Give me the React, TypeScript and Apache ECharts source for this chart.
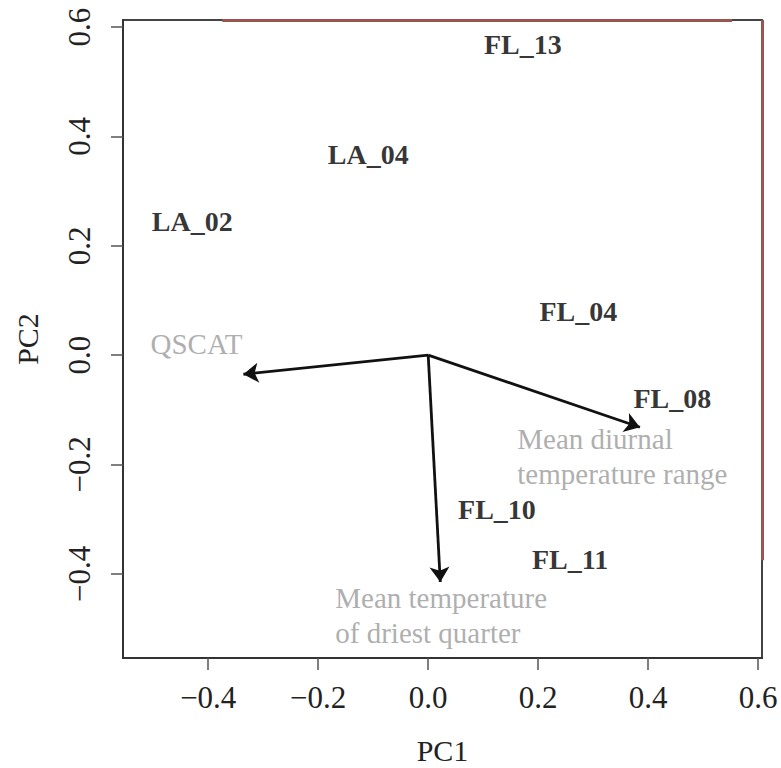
import React, { useEffect, useRef } from "react";
import * as echarts from "echarts";

const siteNames = ["FL_13", "LA_04", "LA_02", "FL_04", "FL_08", "FL_10", "FL_11"];
const siteX = [0.172, -0.109, -0.429, 0.273, 0.444, 0.125, 0.258];
const siteY = [0.569, 0.367, 0.244, 0.08, -0.08, -0.283, -0.374];

const varNames = ["QSCAT", "Mean diurnal\ntemperature range", "Mean temperature\nof driest quarter"];
const varX = [-0.336, 0.385, 0.022];
const varY = [-0.035, -0.132, -0.415];
const varLabelX = [-0.505, 0.162, -0.169];
const varLabelY = [0.02, -0.186, -0.476];

const tickValues = [-0.4, -0.2, 0, 0.2, 0.4, 0.6];
const xRange = [-0.555, 0.607];
const yRange = [-0.554, 0.613];
const topRedRange = [-0.3745, 0.5527];
const rightRedRange = [-0.375, 0.613];

const FONT = "'Liberation Serif', 'Times New Roman', serif";
const fmt = (v: number) => {
  const s = Math.abs(v).toFixed(1);
  return v < -1e-9 ? "\u2212" + s : s;
};

export default function App() {
  const ref = useRef<HTMLDivElement>(null);
  useEffect(() => {
    if (!ref.current) return;
    const chart = echarts.init(ref.current, null, { renderer: "svg" });
    const axisCommon = {
      type: "value" as const,
      splitLine: { show: false },
      axisLine: { show: true, onZero: false, lineStyle: { color: "#333", width: 2 } },
      axisTick: { show: true, length: 12, customValues: tickValues, lineStyle: { color: "#555", width: 1.5 } },
      nameLocation: "middle" as const,
      nameTextStyle: { fontFamily: FONT, fontSize: 30, lineHeight: 30, color: "#222" },
    };
    chart.setOption({
      animation: false,
      backgroundColor: "#fff",
      grid: {
        left: 123,
        right: 19,
        top: 20,
        bottom: 110,
        show: true,
        borderColor: "#444",
        borderWidth: 2,
        containLabel: false,
        outerBoundsMode: "none",
      },
      xAxis: {
        ...axisCommon,
        min: xRange[0],
        max: xRange[1],
        name: "PC1",
        nameGap: 77,
        axisLabel: {
          customValues: tickValues,
          formatter: fmt,
          fontFamily: FONT,
          fontSize: 31,
          color: "#222",
          margin: 24,
        },
      },
      yAxis: {
        ...axisCommon,
        min: yRange[0],
        max: yRange[1],
        name: "PC2",
        nameGap: 81,
        axisLabel: {
          customValues: tickValues,
          formatter: fmt,
          fontFamily: FONT,
          fontSize: 31,
          color: "#222",
          rotate: 90,
          margin: 28,
        },
      },
      series: [
        {
          type: "scatter",
          symbolSize: 0,
          data: siteNames.map((n, i) => ({ name: n, value: [siteX[i], siteY[i]] })),
          label: {
            show: true,
            position: "inside",
            formatter: "{b}",
            fontFamily: FONT,
            fontWeight: "bold",
            fontSize: 28,
            color: "#000",
          },
          markLine: {
            silent: true,
            symbol: ["none", "none"],
            label: { show: false },
            lineStyle: { color: "#9b5550", width: 3, type: "solid" },
            data: [
              [{ coord: [topRedRange[0], yRange[1]] }, { coord: [topRedRange[1], yRange[1]] }],
              [{ coord: [xRange[1], rightRedRange[0]] }, { coord: [xRange[1], rightRedRange[1]] }],
            ],
          },
        },
        {
          type: "lines",
          coordinateSystem: "cartesian2d",
          symbol: ["none", "arrow"],
          symbolSize: 15,
          lineStyle: { color: "#111", width: 2.8, opacity: 1 },
          data: varX.map((x, i) => ({ coords: [[0, 0], [x, varY[i]]] })),
        },
        {
          type: "scatter",
          symbolSize: 0,
          data: varNames.map((n, i) => ({ name: n, value: [varLabelX[i], varLabelY[i]] })),
          label: {
            show: true,
            position: "right",
            distance: 0,
            align: "left",
            formatter: "{b}",
            fontFamily: FONT,
            fontSize: 29,
            lineHeight: 35,
            color: "#999",
          },
        },
      ],
    });
    return () => chart.dispose();
  }, []);
  return <div ref={ref} style={{ width: 781, height: 768, position: "absolute", left: 0, top: 0 }} />;
}
